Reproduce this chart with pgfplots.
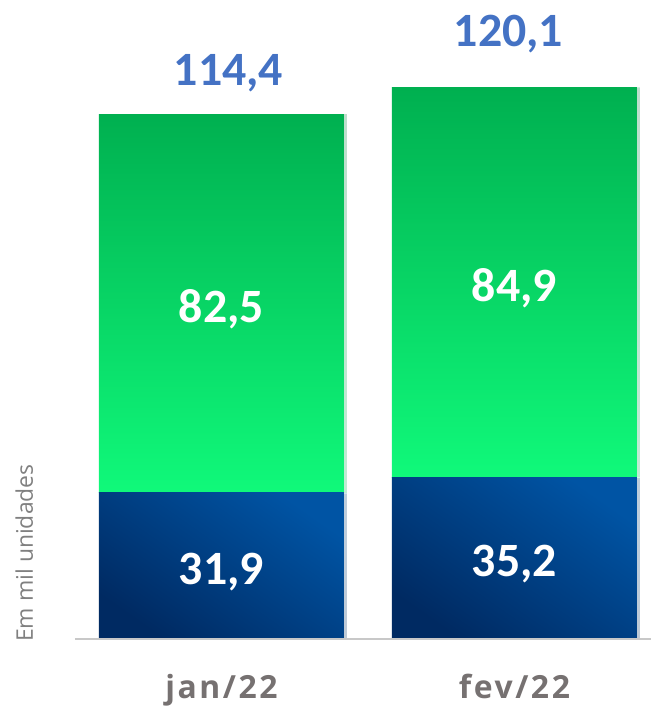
\documentclass[border=0pt]{standalone}
\usepackage{pgfplots}
\pgfplotsset{compat=1.18}
\usepackage{pgfplotstable}
\usepackage{fontspec}
\usetikzlibrary{shadows}
\setmainfont{Carlito}
\newfontfamily\tickfont[LetterSpace=8]{Open Sans}
\newfontfamily\labfont{Open Sans}
\definecolor{gtop}{RGB}{0,176,80}
\definecolor{gbot}{RGB}{16,249,122}
\definecolor{bdark}{RGB}{0,42,98}
\definecolor{blight}{RGB}{0,84,164}
\definecolor{totblue}{RGB}{68,114,196}
\definecolor{tickgray}{RGB}{118,113,113}
\definecolor{labgray}{RGB}{128,128,128}
\definecolor{basegray}{RGB}{200,200,200}
\pgfplotstableread{
x blue green total
0 31.9 82.5 114.4
1 35.2 84.9 120.1
}\data
\pgfplotsset{
  frame/.style={at={(0,0)}, anchor=south west,
    scale only axis, width=576bp, height=619.5bp,
    xmin=-0.5, xmax=1.466, ymin=0, ymax=135, clip=false},
  bluebar/.style={draw=none, top color=blight, bottom color=bdark, shading angle=-35,
    drop shadow={shadow xshift=3bp, shadow yshift=-1bp, opacity=0.18}},
  greenbar/.style={draw=none, top color=gtop, bottom color=gbot,
    drop shadow={shadow xshift=3bp, shadow yshift=0bp, opacity=0.18}},
  lab/.style={only marks, mark=none, point meta=explicit,
    nodes near coords={\pgfmathprintnumber[fixed,fixed zerofill,precision=1,use comma,assume math mode=true]{\pgfplotspointmeta}},
    nodes near coords align={anchor=center}},
}
\begin{document}
\begin{tikzpicture}
\useasboundingbox (-75bp,-67bp) rectangle (576bp,639bp);
% bar jan/22
\begin{axis}[frame, hide axis, ybar stacked, bar width=245bp,
  skip coords between index={1}{2}]
\addplot[bluebar] table[x=x, y=blue] {\data};
\addplot[greenbar] table[x=x, y=green] {\data};
\end{axis}
% bar fev/22
\begin{axis}[frame, hide axis, ybar stacked, bar width=245bp,
  skip coords between index={0}{1}]
\addplot[bluebar] table[x=x, y=blue] {\data};
\addplot[greenbar] table[x=x, y=green] {\data};
\end{axis}
% labels, axis line, ticks
\begin{axis}[frame,
  hide y axis, axis x line*=bottom,
  x axis line style={basegray, line width=2bp},
  xtick={0,1}, xticklabels={jan/22, fev/22}, major tick length=0pt,
  xticklabel style={font=\tickfont\bfseries\fontsize{32}{36}\selectfont, text=tickgray, anchor=base, inner sep=0pt, yshift=-59bp},
]
\addplot[lab, every node near coord/.append style={font=\bfseries\fontsize{48}{50}\selectfont, text=white, inner sep=0pt, anchor=center, yshift=-6bp}]
  table[x=x, y expr=\thisrow{blue}/2, meta=blue] {\data};
\addplot[lab, every node near coord/.append style={font=\bfseries\fontsize{48}{50}\selectfont, text=white, inner sep=0pt, anchor=center, yshift=-6bp}]
  table[x=x, y expr=\thisrow{blue}+\thisrow{green}/2, meta=green] {\data};
\addplot[lab, skip coords between index={1}{2}, nodes near coords align={anchor=base},
  every node near coord/.append style={font=\bfseries\fontsize{48}{50}\selectfont, text=totblue, inner sep=0pt, anchor=base, yshift=29bp, xshift=7bp}]
  table[x=x, y=total, meta=total] {\data};
\addplot[lab, skip coords between index={0}{1}, nodes near coords align={anchor=base},
  every node near coord/.append style={font=\bfseries\fontsize{48}{50}\selectfont, text=totblue, inner sep=0pt, anchor=base, yshift=41bp, xshift=-6bp}]
  table[x=x, y=total, meta=total] {\data};
\node[rotate=90, anchor=base west, inner sep=0pt, font=\labfont\fontsize{23}{25}\selectfont, text=labgray]
  at ([xshift=-42bp,yshift=-3bp]axis cs:-0.5,0) {Em mil unidades};
\end{axis}
\end{tikzpicture}
\end{document}
